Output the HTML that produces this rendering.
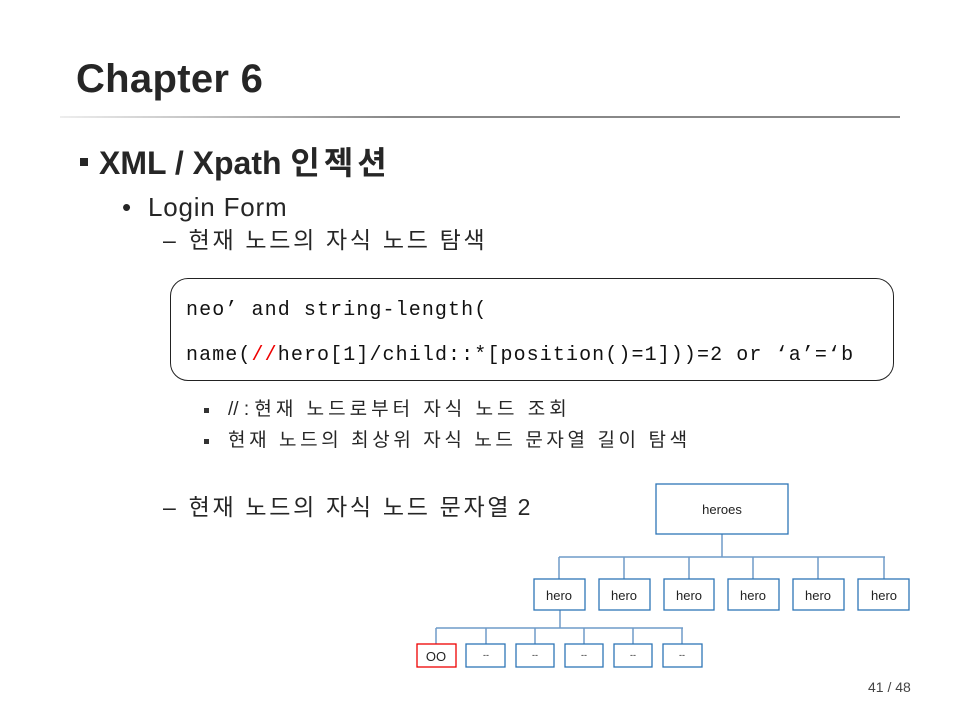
<!DOCTYPE html>
<html><head><meta charset="utf-8"><style>
body{margin:0;width:960px;height:720px;background:#fff;position:relative;overflow:hidden;font-family:"Liberation Sans","Noto Sans CJK KR",sans-serif;color:#262626}
.a{position:absolute;white-space:nowrap;line-height:1}
.code{font-family:"Liberation Mono","Noto Sans CJK KR",monospace;font-size:20px;letter-spacing:1.1px;color:#111}
</style></head><body>
<div class="a" style="left:76px;top:59px;font-size:40px;font-weight:bold;color:#262626;letter-spacing:0.3px">Chapter 6</div>
<div class="a" style="left:60px;top:116px;width:840px;height:2px;background:linear-gradient(to right,#eee,#888 40%,#888)"></div>
<div class="a" style="left:80px;top:158px;width:8px;height:8px;background:#262626"></div>
<div class="a" style="left:99px;top:147px;font-size:32px;font-weight:bold">XML / Xpath <span style="letter-spacing:4px">인젝션</span></div>
<div class="a" style="left:122px;top:194px;font-size:26px;letter-spacing:0.8px">•&nbsp; Login Form</div>
<div class="a" style="left:163px;top:229px;font-size:23px">–&nbsp; <span style="letter-spacing:2.7px">현재 노드의 자식 노드 탐색</span></div>
<div class="a" style="left:170px;top:278px;width:722px;height:101px;border:1.3px solid #222;border-radius:18px"></div>
<div class="a code" style="left:186px;top:301px">neo’ and string-length(</div>
<div class="a code" style="left:186px;top:346px">name(<span style="color:#e00">//</span>hero[1]/child::*[position()=1]))=2 or ‘a’=‘b</div>
<div class="a" style="left:204px;top:408px;width:5px;height:5px;background:#333"></div>
<div class="a" style="left:228px;top:400px;font-size:19px">// : <span style="letter-spacing:4px">현재 노드로부터 자식 노드 조회</span></div>
<div class="a" style="left:204px;top:439px;width:5px;height:5px;background:#333"></div>
<div class="a" style="left:228px;top:431px;font-size:19px;letter-spacing:3.6px">현재 노드의 최상위 자식 노드 문자열 길이 탐색</div>
<div class="a" style="left:163px;top:496px;font-size:23px">–&nbsp; <span style="letter-spacing:2.7px">현재 노드의 자식 노드 문자열</span> 2</div>
<div class="a" style="left:868px;top:680px;font-size:14px;color:#444">41 / 48</div>
<svg class="a" style="left:0;top:0" width="960" height="720" font-family="Liberation Sans, sans-serif" font-size="13" text-anchor="middle">
<g stroke="#6f9bc9" stroke-width="1.5" fill="none">
<line x1="722" y1="534" x2="722" y2="557"/>
<line x1="559" y1="557" x2="885" y2="557"/>
<line x1="559" y1="557" x2="559" y2="579"/><line x1="624" y1="557" x2="624" y2="579"/><line x1="689" y1="557" x2="689" y2="579"/><line x1="753" y1="557" x2="753" y2="579"/><line x1="818" y1="557" x2="818" y2="579"/><line x1="884" y1="557" x2="884" y2="579"/>
<line x1="560" y1="610" x2="560" y2="628"/>
<line x1="436" y1="628" x2="683" y2="628"/>
<line x1="436" y1="628" x2="436" y2="644"/><line x1="486" y1="628" x2="486" y2="644"/><line x1="535" y1="628" x2="535" y2="644"/><line x1="584" y1="628" x2="584" y2="644"/><line x1="633" y1="628" x2="633" y2="644"/><line x1="682" y1="628" x2="682" y2="644"/>
</g>
<g stroke="#2e75b6" stroke-width="1.3" fill="#fff">
<rect x="656" y="484" width="132" height="50"/>
<rect x="534" y="579" width="51" height="31"/><rect x="599" y="579" width="51" height="31"/><rect x="664" y="579" width="50" height="31"/><rect x="728" y="579" width="51" height="31"/><rect x="793" y="579" width="51" height="31"/><rect x="858" y="579" width="51" height="31"/>
<rect x="466" y="644" width="39" height="23"/><rect x="516" y="644" width="38" height="23"/><rect x="565" y="644" width="38" height="23"/><rect x="614" y="644" width="38" height="23"/><rect x="663" y="644" width="39" height="23"/>
<rect x="417" y="644" width="39" height="23" stroke="#e00"/>
</g>
<g fill="#222">
<text x="722" y="514">heroes</text>
<text x="559" y="600">hero</text><text x="624" y="600">hero</text><text x="689" y="600">hero</text><text x="753" y="600">hero</text><text x="818" y="600">hero</text><text x="884" y="600">hero</text>
<text x="436" y="661">OO</text>
<g font-size="9"><text x="486" y="658">--</text><text x="535" y="658">--</text><text x="584" y="658">--</text><text x="633" y="658">--</text><text x="682" y="658">--</text></g>
</g>
</svg>
</body></html>
